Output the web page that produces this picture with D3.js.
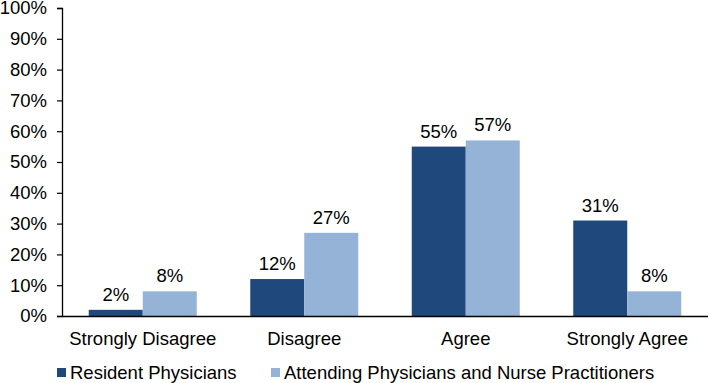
<!DOCTYPE html>
<html>
<head>
<meta charset="utf-8">
<script src="https://cdn.jsdelivr.net/npm/d3@7"></script>
<style>
  body { margin: 0; background: #fff; }
  svg { display: block; font-family: "Liberation Sans", Arial, sans-serif; }
</style>
</head>
<body>
<div id="chart"></div>
<script>
"use strict";

const categories = ["Strongly Disagree", "Disagree", "Agree", "Strongly Agree"];
const seriesNames = ["Resident Physicians", "Attending Physicians and Nurse Practitioners"];
const residentValues = [2, 12, 55, 31];
const attendingValues = [8, 27, 57, 8];
const yTicks = [0, 10, 20, 30, 40, 50, 60, 70, 80, 90, 100];

const colours = ["#1F497D", "#95B3D7"];

const width = 708,
  height = 383;

const margin = { top: 8, right: 0, bottom: 67, left: 62 };

const svg = d3
  .select("#chart")
  .append("svg")
  .attr("width", width)
  .attr("height", height);

const x = d3
  .scaleBand()
  .domain(categories)
  .range([margin.left, width - margin.right])
  .paddingInner(0)
  .paddingOuter(0);

const y = d3
  .scaleLinear()
  .domain([0, 100])
  .range([height - margin.bottom, margin.top]);

const barW = 54;

// Build grouped rows from the series arrays
const rows = categories.map((c, i) => ({
  category: c,
  values: [residentValues[i], attendingValues[i]],
}));

const groups = svg
  .append("g")
  .selectAll("g")
  .data(rows)
  .join("g")
  .attr("transform", (d) => `translate(${x(d.category) + x.bandwidth() / 2 - barW},0)`);

groups
  .selectAll("rect")
  .data((d) => d.values)
  .join("rect")
  .attr("x", (d, i) => i * barW)
  .attr("y", (d) => y(d))
  .attr("width", barW)
  .attr("height", (d) => y(0) - y(d))
  .attr("fill", (d, i) => colours[i]);

groups
  .selectAll("text")
  .data((d) => d.values)
  .join("text")
  .attr("x", (d, i) => i * barW + barW / 2)
  .attr("y", (d) => y(d) - 9)
  .attr("text-anchor", "middle")
  .attr("font-size", 18.5)
  .attr("fill", "#000")
  .text((d) => d + "%");

// y axis
svg
  .append("g")
  .attr("transform", `translate(${margin.left},0)`)
  .call(
    d3
      .axisLeft(y)
      .tickValues(yTicks)
      .tickSize(5)
      .tickPadding(10)
      .tickFormat((d) => d + "%")
  )
  .call((g) => g.select(".domain").attr("stroke", "#000").attr("stroke-width", 1.3))
  .call((g) => g.selectAll(".tick line").attr("stroke", "#000").attr("stroke-width", 1.2))
  .call((g) =>
    g
      .selectAll(".tick text")
      .attr("font-size", 18.5)
      .attr("fill", "#000")
      .attr("font-family", "Liberation Sans, Arial, sans-serif")
  );

// x axis
svg
  .append("g")
  .attr("transform", `translate(0,${y(0)})`)
  .call(d3.axisBottom(x).tickSize(0).tickPadding(16))
  .call((g) => g.select(".domain").attr("stroke", "#000").attr("stroke-width", 1.3))
  .call((g) =>
    g
      .selectAll(".tick text")
      .attr("font-size", 18.5)
      .attr("fill", "#000")
      .attr("font-family", "Liberation Sans, Arial, sans-serif")
  );

// legend
const legendX = [57, 271];
const legend = svg
  .append("g")
  .selectAll("g")
  .data(seriesNames)
  .join("g")
  .attr("transform", (d, i) => `translate(${legendX[i]},${368})`);

legend
  .append("rect")
  .attr("width", 9)
  .attr("height", 9)
  .attr("fill", (d, i) => colours[i]);

legend
  .append("text")
  .attr("x", 13)
  .attr("y", 4.5)
  .attr("dy", "0.35em")
  .attr("font-size", 18.5)
  .attr("fill", "#000")
  .text((d) => d);
</script>
</body>
</html>
